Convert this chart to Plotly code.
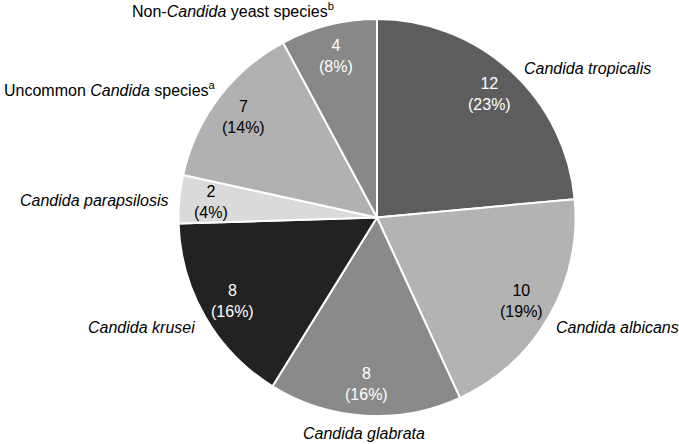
import math
import plotly.graph_objects as go

# ---- data ----
species = [
    "<i>Candida tropicalis</i>",
    "<i>Candida albicans</i>",
    "<i>Candida glabrata</i>",
    "<i>Candida krusei</i>",
    "<i>Candida parapsilosis</i>",
    "Uncommon <i>Candida</i> species<sup>a</sup>",
    "Non-<i>Candida</i> yeast species<sup>b</sup>",
]
counts = [12, 10, 8, 8, 2, 7, 4]
percent_labels = ["23%", "19%", "16%", "16%", "4%", "14%", "8%"]

# ---- styles ----
slice_colors = ["#5d5d5d", "#b3b3b3", "#8a8a8a", "#222222", "#dadada", "#b1b1b1", "#888888"]
count_text_colors = ["white", "black", "white", "white", "black", "black", "white"]
FONT = "Liberation Sans, Arial, sans-serif"

W, H = 679, 444
CX, CY, R = 377, 217.5, 198.5  # pixel geometry of the pie

# outside label anchors (pixel) and alignment
name_anchor = [
    (524, 69, "left"),
    (556, 327, "left"),
    (364, 433, "center"),
    (195, 327, "right"),
    (169, 200, "right"),
    (216, 89, "right"),
    (334, 10, "right"),
]

fig = go.Figure(
    go.Pie(
        labels=species,
        values=counts,
        sort=False,
        direction="clockwise",
        rotation=0,
        marker=dict(colors=slice_colors, line=dict(color="white", width=2)),
        textinfo="none",
        hoverinfo="label+value+percent",
        showlegend=False,
        domain=dict(x=[(CX - R) / W, (CX + R) / W], y=[1 - (CY + R) / H, 1 - (CY - R) / H]),
    )
)

annotations = []
total = sum(counts)
cum = 0
for i, (n, pct) in enumerate(zip(counts, percent_labels)):
    mid = (cum + n / 2) / total * 2 * math.pi
    cum += n
    rr = 0.84 * R
    px = CX + rr * math.sin(mid)
    py = CY - rr * math.cos(mid)
    annotations.append(dict(
        x=px / W, y=1 - py / H, xref="paper", yref="paper",
        text=f"{n}<br>({pct})", showarrow=False, align="center",
        xanchor="center", yanchor="middle",
        font=dict(family=FONT, size=16, color=count_text_colors[i]),
    ))
    ax, ay, al = name_anchor[i]
    annotations.append(dict(
        x=ax / W, y=1 - ay / H, xref="paper", yref="paper",
        text=species[i], showarrow=False, align=al,
        xanchor=al, yanchor="middle", borderpad=0, borderwidth=0,
        font=dict(family=FONT, size=16, color="black"),
    ))

fig.update_layout(
    width=W, height=H,
    margin=dict(l=0, r=0, t=0, b=0),
    paper_bgcolor="white", plot_bgcolor="white",
    annotations=annotations,
)

fig.write_html(
    "out.html",
    config={"displayModeBar": False},
    post_script="document.body.style.margin='0';document.body.style.padding='0';document.body.style.overflow='hidden';",
)
